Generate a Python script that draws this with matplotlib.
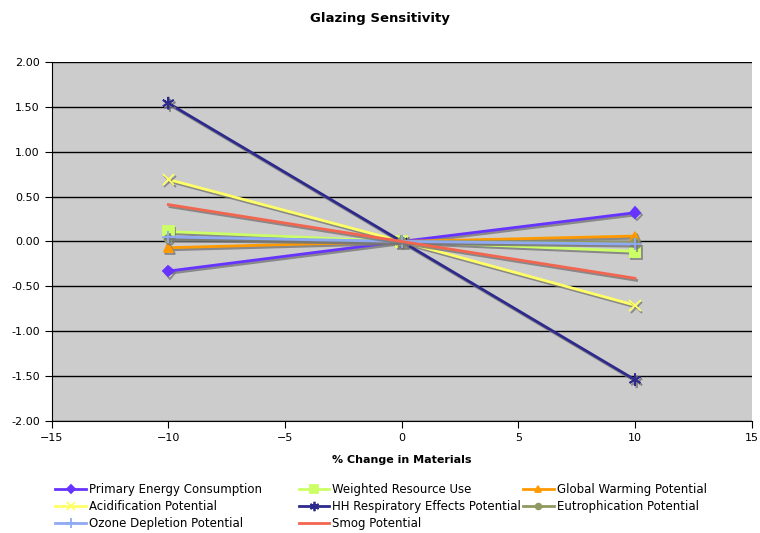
import numpy as np
import matplotlib.pyplot as plt
import matplotlib.patheffects as pe

# % change in materials
x_vals = [-10, 0, 10]

# series values
primary_energy = [-0.33, 0.0, 0.32]
weighted_resource = [0.11, 0.0, -0.11]
global_warming = [-0.07, 0.0, 0.06]
acidification = [0.69, 0.0, -0.71]
hh_respiratory = [1.54, 0.0, -1.54]
eutrophication = [0.03, 0.0, -0.01]
ozone_depletion = [0.05, 0.0, -0.03]
smog = [0.41, 0.0, -0.41]

labels = ["Primary Energy Consumption", "Weighted Resource Use", "Global Warming Potential",
          "Acidification Potential", "HH Respiratory Effects Potential", "Eutrophication Potential",
          "Ozone Depletion Potential", "Smog Potential"]
series = [primary_energy, weighted_resource, global_warming, acidification,
          hh_respiratory, eutrophication, ozone_depletion, smog]
colors = ["#6633FF", "#CCFF66", "#FF9900", "#FFFF66", "#2E2A8C", "#8F9960", "#8FAAF2", "#F26650"]
markers = ["D", "s", "^", "x", (6, 2, 0), "o", "+", None]
msizes = [5.5, 7.5, 6.5, 8, 9, 5.5, 9, 0]

plt.rcParams['font.family'] = ['DejaVu Sans']

fig = plt.figure(figsize=(7.6, 5.33), dpi=100)
ax = fig.add_axes([0.068, 0.21, 0.921, 0.674])
ax.set_facecolor("#CCCCCC")

shadow = [pe.SimpleLineShadow(offset=(1.2, -1.5), shadow_color="#777777", alpha=0.8), pe.Normal()]

lines = []
for lbl, vals, col, mk, ms in zip(labels, series, colors, markers, msizes):
    ln, = ax.plot(x_vals, vals, color=col, marker=mk, markersize=ms, linewidth=2,
                  markeredgewidth=1.3, label=lbl, path_effects=shadow)
    lines.append(ln)

ax.set_xlim(-15, 15)
ax.set_ylim(-2, 2)
ax.set_xticks(np.arange(-15, 16, 5))
ax.set_yticks(np.arange(-2, 2.01, 0.5))
ax.set_yticklabels([f"{v:.2f}" for v in np.arange(-2, 2.01, 0.5)])
ax.yaxis.grid(True, color="black", linewidth=1)
ax.set_axisbelow(True)
for side in ["top", "right"]:
    ax.spines[side].set_visible(False)
ax.tick_params(labelsize=8, direction="out", length=5)

ax.set_xlabel("% Change in Materials", fontsize=8, fontweight="bold", labelpad=9)
fig.suptitle("Glazing Sensitivity", fontsize=9.5, fontweight="bold", y=0.978)

# legend: three equal-width columns, row-major order
col_x = [0.073, 0.393, 0.688]
for c in range(3):
    idx = [i for i in range(c, len(lines), 3)]
    leg = fig.legend([lines[i] for i in idx], [labels[i] for i in idx], loc="upper left",
                     bbox_to_anchor=(col_x[c], 0.094), frameon=False, fontsize=8.5,
                     handlelength=2.6, handletextpad=0.25, labelspacing=0.36,
                     markerscale=0.75, borderaxespad=0, borderpad=0)
    for h in leg.legend_handles:
        h.set_path_effects([])

fig.savefig("out.png", dpi=100)
